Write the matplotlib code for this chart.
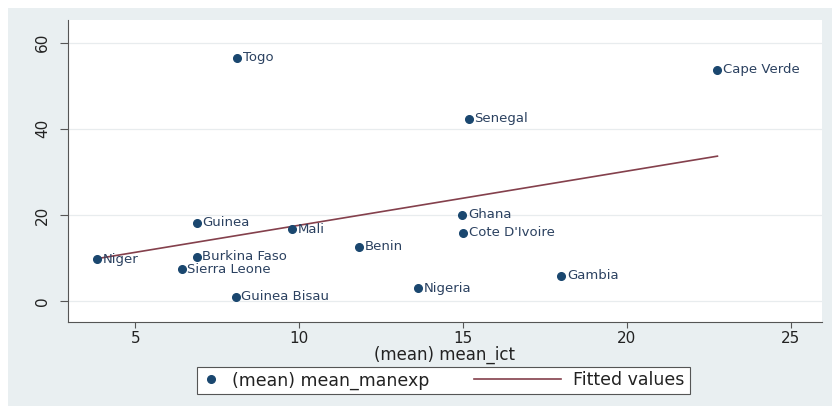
import numpy as np
import matplotlib
matplotlib.use("Agg")
import matplotlib.pyplot as plt
from matplotlib.lines import Line2D
from matplotlib.patches import Rectangle
from matplotlib.legend_handler import HandlerLine2D

# (mean) mean_ict, (mean) mean_manexp by country
countries = ["Togo", "Cape Verde", "Senegal", "Ghana", "Cote D'Ivoire", "Gambia",
             "Nigeria", "Guinea", "Mali", "Benin", "Niger", "Burkina Faso",
             "Sierra Leone", "Guinea Bisau"]
mean_ict = [8.11, 22.76, 15.18, 14.98, 15.0, 18.0, 13.63, 6.88, 9.78, 11.83,
            3.83, 6.88, 6.42, 8.07]
mean_manexp = [56.5, 53.7, 42.3, 20.0, 15.9, 5.8, 3.0, 18.2, 16.7, 12.6,
               9.7, 10.3, 7.4, 1.0]

navy = "#1a476f"
labcol = "#2b4160"
fitcol = "#84404c"

plt.rcParams["font.family"] = ["DejaVu Sans"]

fig = plt.figure(figsize=(8.39, 4.12), dpi=100)
fig.patch.set_facecolor("white")
# graph region background
bg = Rectangle((8 / 839, 1 - 406 / 412), 824 / 839, 398 / 412,
               transform=fig.transFigure, facecolor="#e9eff1",
               edgecolor="none", zorder=-10)
fig.add_artist(bg)

ax = fig.add_axes([68 / 839, 1 - 322 / 412, 754 / 839, 302 / 412])
ax.set_zorder(1)
ax.set_facecolor("white")

x = np.array(mean_ict)
y = np.array(mean_manexp)
ax.plot(x, y, "o", color=navy, markersize=5.5, zorder=3)
for name, xi, yi in zip(countries, x, y):
    ax.annotate(name, (xi, yi), xytext=(4, 0), textcoords="offset points",
                va="center", ha="left", fontsize=9.5, color=labcol)

b, a = np.polyfit(x, y, 1)
xs = np.array([x.min(), x.max()])
ax.plot(xs, a + b * xs, color=fitcol, lw=1.2, zorder=2)

ax.set_xlim(2.95, 25.95)
ax.set_ylim(-4.9, 65.3)
ax.set_xticks([5, 10, 15, 20, 25])
ax.set_yticks([0, 20, 40, 60])
ax.grid(axis="y", color="#e8ecee", lw=0.9)
ax.set_axisbelow(True)
for s in ["top", "right"]:
    ax.spines[s].set_visible(False)
for s in ["left", "bottom"]:
    ax.spines[s].set_color("#555555")
ax.tick_params(axis="x", length=4, color="#555555", labelsize=11, pad=2.5,
               labelcolor="#222222")
ax.tick_params(axis="y", length=6, color="#555555", labelsize=11, pad=7,
               labelcolor="#222222")
for t in ax.get_yticklabels():
    t.set_rotation(90)
    t.set_va("center")
ax.set_xlabel("(mean) mean_ict", fontsize=12, labelpad=0, color="#222222")


class LongLine(HandlerLine2D):
    def create_artists(self, legend, orig_handle, xdescent, ydescent, width,
                       height, fontsize, trans):
        extra = 4 * fontsize
        return super().create_artists(legend, orig_handle, xdescent + extra,
                                      ydescent, width + extra, height,
                                      fontsize, trans)


h1 = Line2D([], [], ls="none", marker="o", color=navy, markersize=5.5)
h2 = Line2D([], [], color=fitcol, lw=1.2)
leg = fig.legend([h1, h2], ["(mean) mean_manexp", "Fitted values"], ncol=2,
                 loc="center", bbox_to_anchor=(443.5 / 839, 1 - 380.5 / 412),
                 fontsize=12.5, handlelength=1.0, handletextpad=0.7,
                 columnspacing=6.6, borderpad=0.28, borderaxespad=0,
                 fancybox=False, framealpha=1, edgecolor="#555555",
                 handler_map={h2: LongLine(), h1: HandlerLine2D(numpoints=1)})
leg.get_frame().set_linewidth(0.8)
for t in leg.get_texts():
    t.set_color("#222222")

fig.savefig("out.png", dpi=100, facecolor=fig.get_facecolor())
